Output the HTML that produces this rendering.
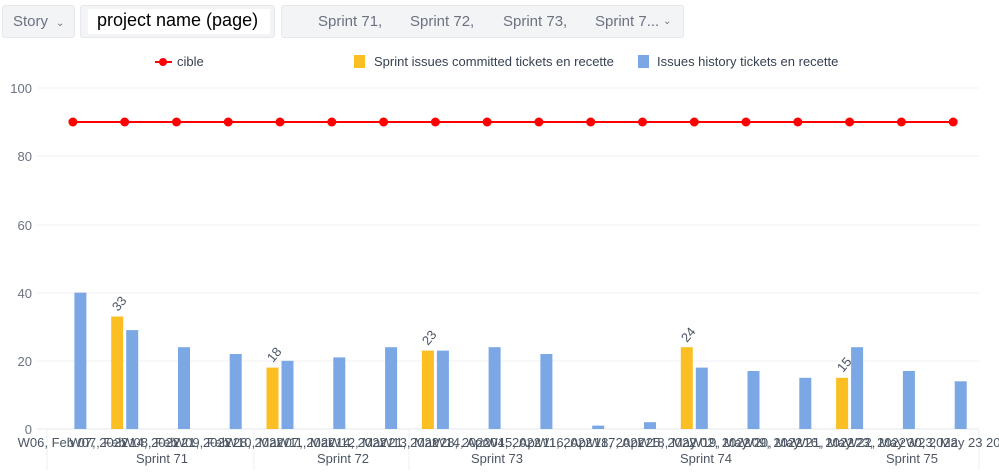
<!DOCTYPE html>
<html><head><meta charset="utf-8"><style>
body{margin:0;width:999px;height:474px;background:#fff;font-family:"Segoe UI","Liberation Sans",sans-serif;overflow:hidden;position:relative}
.box{position:absolute;top:5px;height:31px;background:#f3f4f6;border:1px solid #e6e8eb;border-radius:3px;color:#6b7280;font-size:15px;line-height:31px}
</style></head><body>
<div class="box" style="left:2px;width:71px"><span style="margin-left:10px">Story</span><span style="font-size:10px;margin-left:8px">&#8964;</span></div>
<div class="box" style="left:80px;width:193px"><div style="position:absolute;left:7px;top:3px;height:25px;background:#fff;width:182px"></div><span style="position:absolute;left:16px;color:#000;font-size:18px;top:-1px">project name (page)</span></div>
<div class="box" style="left:281px;width:401px"><span style="position:absolute;left:36px">Sprint 71,</span><span style="position:absolute;left:128px">Sprint 72,</span><span style="position:absolute;left:221px">Sprint 73,</span><span style="position:absolute;left:313px">Sprint 7...</span><span style="position:absolute;left:381px;font-size:10px">&#8964;</span></div>
<svg width="999" height="474" style="position:absolute;left:0;top:0" font-family="Segoe UI, Liberation Sans, sans-serif">
<g font-size="13" fill="#374151">
<line x1="155" y1="62" x2="172" y2="62" stroke="#f00" stroke-width="2"/><circle cx="163" cy="62" r="4" fill="#f00"/><text x="177" y="66">cible</text>
<rect x="354" y="55" width="11" height="13" fill="#fbbf24"/><text x="374" y="66">Sprint issues committed tickets en recette</text>
<rect x="638" y="55" width="11" height="13" fill="#7ba7e4"/><text x="657" y="66">Issues history tickets en recette</text>
</g>
<g stroke="#f1f2f4" stroke-width="1">
<line x1="37" y1="88" x2="979" y2="88"/><line x1="37" y1="156" x2="979" y2="156"/><line x1="37" y1="225" x2="979" y2="225"/><line x1="37" y1="293" x2="979" y2="293"/><line x1="37" y1="361" x2="979" y2="361"/><line x1="37" y1="429" x2="979" y2="429" stroke="#e5e7eb"/>
</g>
<g font-size="13" fill="#6b7280" text-anchor="end">
<text x="32" y="93">100</text><text x="32" y="161">80</text><text x="32" y="230">60</text><text x="32" y="298">40</text><text x="32" y="366">20</text><text x="32" y="434">0</text>
</g>
<g fill="#7ba7e4">
<rect x="74.4" y="292.6" width="12" height="136.4"/><rect x="126.2" y="330.1" width="12" height="98.9"/><rect x="178" y="347.2" width="12" height="81.8"/><rect x="229.7" y="354" width="12" height="75"/><rect x="281.5" y="360.8" width="12" height="68.2"/><rect x="333.3" y="357.4" width="12" height="71.6"/><rect x="385.1" y="347.2" width="12" height="81.8"/><rect x="436.9" y="350.6" width="12" height="78.4"/><rect x="488.6" y="347.2" width="12" height="81.8"/><rect x="540.4" y="354" width="12" height="75"/><rect x="592.2" y="425.6" width="12" height="3.4"/><rect x="644" y="422.2" width="12" height="6.8"/><rect x="695.8" y="367.6" width="12" height="61.4"/><rect x="747.5" y="371" width="12" height="58"/><rect x="799.3" y="377.8" width="12" height="51.2"/><rect x="851.1" y="347.2" width="12" height="81.8"/><rect x="902.9" y="371" width="12" height="58"/><rect x="954.7" y="381.3" width="12" height="47.7"/>
</g>
<g fill="#fbbf24">
<rect x="111.2" y="316.5" width="12" height="112.5"/><rect x="266.5" y="367.6" width="12" height="61.4"/><rect x="421.9" y="350.6" width="12" height="78.4"/><rect x="680.8" y="347.2" width="12" height="81.8"/><rect x="836.1" y="377.8" width="12" height="51.2"/>
</g>
<g font-size="13" fill="#4b5563">
<text transform="translate(118,312) rotate(-50)">33</text>
<text transform="translate(273,363) rotate(-50)">18</text>
<text transform="translate(428,346) rotate(-50)">23</text>
<text transform="translate(687,343) rotate(-50)">24</text>
<text transform="translate(843,373) rotate(-50)">15</text>
</g>
<polyline fill="none" stroke="#f00" stroke-width="2" points="72.9,122 953.2,122"/>
<g fill="#f00">
<circle cx="72.9" cy="122" r="4.5"/><circle cx="124.7" cy="122" r="4.5"/><circle cx="176.5" cy="122" r="4.5"/><circle cx="228.2" cy="122" r="4.5"/><circle cx="280" cy="122" r="4.5"/><circle cx="331.8" cy="122" r="4.5"/><circle cx="383.6" cy="122" r="4.5"/><circle cx="435.4" cy="122" r="4.5"/><circle cx="487.1" cy="122" r="4.5"/><circle cx="538.9" cy="122" r="4.5"/><circle cx="590.7" cy="122" r="4.5"/><circle cx="642.5" cy="122" r="4.5"/><circle cx="694.3" cy="122" r="4.5"/><circle cx="746" cy="122" r="4.5"/><circle cx="797.8" cy="122" r="4.5"/><circle cx="849.6" cy="122" r="4.5"/><circle cx="901.4" cy="122" r="4.5"/><circle cx="953.2" cy="122" r="4.5"/>
</g>
<g stroke="#eef0f2"><line x1="47" y1="430" x2="47" y2="470"/><line x1="254" y1="430" x2="254" y2="470"/><line x1="409" y1="430" x2="409" y2="470"/><line x1="979" y1="430" x2="979" y2="470"/></g>
<g font-size="13" fill="#4b5563" text-anchor="middle">
<text x="72.9" y="447">W06, Feb 07, 2022</text><text x="124.7" y="447">W07, Feb 14, 2022</text><text x="176.5" y="447">W08, Feb 21, 2022</text><text x="228.2" y="447">W09, Feb 28, 2022</text><text x="280" y="447">W10, Mar 07, 2022</text><text x="331.8" y="447">W11, Mar 14, 2022</text><text x="383.6" y="447">W12, Mar 21, 2022</text><text x="435.4" y="447">W13, Mar 28, 2022</text><text x="487.1" y="447">W14, Apr 04, 2022</text><text x="538.9" y="447">W15, Apr 11, 2022</text><text x="590.7" y="447">W16, Apr 18, 2022</text><text x="642.5" y="447">W17, Apr 25, 2022</text><text x="694.3" y="447">W18, May 02, 2022</text><text x="746" y="447">W19, May 09, 2022</text><text x="797.8" y="447">W20, May 16, 2022</text><text x="849.6" y="447">W21, May 23, 2022</text><text x="901.4" y="447">W22, May 30, 2022</text><text x="953.2" y="447">W23, May 23 20</text>
<text x="162" y="463">Sprint 71</text><text x="343" y="463">Sprint 72</text><text x="497" y="463">Sprint 73</text><text x="706" y="463">Sprint 74</text><text x="912" y="463">Sprint 75</text>
</g>
</svg>
</body></html>
